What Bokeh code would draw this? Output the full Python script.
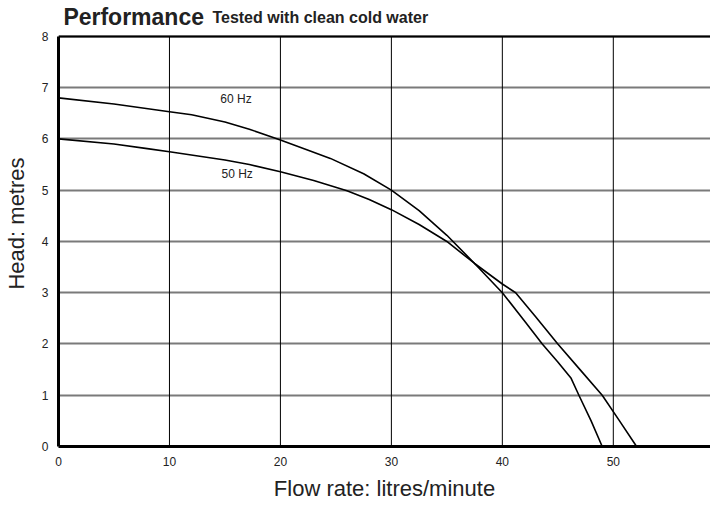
from bokeh.plotting import figure
from bokeh.models import Range1d, Label, Span, FixedTicker
from bokeh.embed import file_html
from bokeh.resources import INLINE
from bokeh.core.properties import value

# Data
flow_60 = [0, 5, 10, 12, 15, 17.2, 20, 22.5, 24.5, 27.5, 30, 32.5, 35, 37.5, 40, 42, 43.6, 45, 46.2, 46.9, 48, 49.0]
head_60 = [6.8, 6.68, 6.53, 6.47, 6.33, 6.19, 5.98, 5.78, 5.62, 5.32, 5.0, 4.6, 4.12, 3.57, 3.0, 2.45, 2.0, 1.65, 1.33, 1.0, 0.5, 0.0]

flow_50 = [0, 5, 8, 10, 15, 17.2, 20, 23, 26, 28, 30, 32.5, 35, 37.5, 40, 41.2, 43, 45, 47, 49, 50.5, 52.1]
head_50 = [6.0, 5.9, 5.81, 5.75, 5.59, 5.5, 5.36, 5.19, 4.99, 4.82, 4.62, 4.33, 4.0, 3.57, 3.17, 3.0, 2.53, 2.0, 1.5, 1.0, 0.52, 0.0]

x_ticks = [0, 10, 20, 30, 40, 50]
y_ticks = [0, 1, 2, 3, 4, 5, 6, 7, 8]

series_labels = ["60 Hz", "50 Hz"]
label_x = [16.0, 16.1]
label_y = [6.77, 5.32]

title_main = "Performance"
title_sub = "Tested with clean cold water"
x_label = "Flow rate: litres/minute"
y_label = "Head: metres"

FONT = "Liberation Sans"
TXT = "#222222"

y_min, y_max = y_ticks[0], y_ticks[-1]

p = figure(width=710, height=504, output_backend="svg", toolbar_location=None,
           x_range=Range1d(0, 58.76), y_range=Range1d(0, 8.70),
           min_border_left=49, min_border_right=0, min_border_top=0, min_border_bottom=58)
p.outline_line_color = None
p.background_fill_color = "white"
p.border_fill_color = "white"

# grids: horizontal via grid, vertical drawn as segments limited to the axis span
p.xgrid.grid_line_color = None
p.ygrid.ticker = FixedTicker(ticks=y_ticks)
p.ygrid.grid_line_color = "#7a7a7a"
p.ygrid.grid_line_width = 2
vx = x_ticks[1:]
p.segment(x0=vx, y0=[y_min] * len(vx), x1=vx, y1=[y_max] * len(vx),
          line_color="black", line_width=1)

# axes
for ax in (p.xaxis[0], p.yaxis[0]):
    ax.axis_line_color = "black"
    ax.axis_line_width = 3
    ax.major_tick_line_color = None
    ax.minor_tick_line_color = None
    ax.major_tick_out = 0
    ax.major_tick_in = 0
    ax.major_label_text_font = FONT
    ax.major_label_text_font_size = "12px"
    ax.major_label_text_color = TXT
    ax.axis_label_text_font = FONT
    ax.axis_label_text_font_size = "22px"
    ax.axis_label_text_font_style = "normal"
    ax.axis_label_text_color = TXT

p.xaxis[0].ticker = FixedTicker(ticks=x_ticks)
p.yaxis[0].ticker = FixedTicker(ticks=y_ticks)
p.yaxis[0].bounds = (y_min, y_max)
p.xaxis[0].axis_label = x_label
p.yaxis[0].axis_label = y_label
p.xaxis[0].major_label_standoff = 10
p.xaxis[0].axis_label_standoff = 7
p.yaxis[0].major_label_standoff = 10
p.yaxis[0].axis_label_standoff = 10

# top border
p.add_layout(Span(location=y_max, dimension="width", line_color="black", line_width=2))

# curves
p.line(flow_60, head_60, line_color="black", line_width=1.6)
p.line(flow_50, head_50, line_color="black", line_width=1.6)

p.text(x=label_x, y=label_y, text=series_labels, text_font=value(FONT),
       text_font_size="12px", text_color=TXT, text_align="center", text_baseline="middle")

# title
p.add_layout(Label(x=0.44, y=8.37, text=title_main,
                   text_font=FONT, text_font_size="23px", text_font_style="bold",
                   text_color=TXT, text_baseline="alphabetic"))
p.add_layout(Label(x=13.87, y=8.37, text=title_sub,
                   text_font=FONT, text_font_size="16px", text_font_style="bold",
                   text_color=TXT, text_baseline="alphabetic"))

open("out.html", "w").write(file_html(p, INLINE))
